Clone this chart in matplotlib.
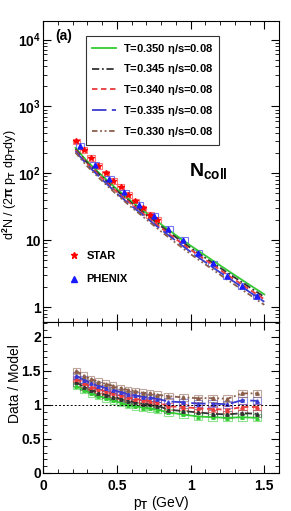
import numpy as np
import matplotlib.pyplot as plt
from matplotlib.patches import Rectangle
from matplotlib.lines import Line2D

plt.rcParams['font.family'] = ['Liberation Sans', 'DejaVu Sans']
plt.rcParams['font.weight'] = 'bold'
plt.rcParams['mathtext.fontset'] = 'custom'
plt.rcParams['mathtext.rm'] = 'Liberation Sans:bold'
plt.rcParams['mathtext.it'] = 'Liberation Sans:bold'
plt.rcParams['mathtext.bf'] = 'Liberation Sans:bold'

# data: spectra
star_pt = [0.225, 0.275, 0.325, 0.375, 0.425, 0.475, 0.525, 0.575, 0.625, 0.675, 0.725, 0.775]
star_y = [300, 225, 170, 128, 100, 78, 62, 48, 38, 30, 24, 20]
phenix_pt = [0.25, 0.35, 0.45, 0.55, 0.65, 0.75, 0.85, 0.95, 1.05, 1.15, 1.25, 1.35, 1.45]
phenix_y = [255, 135, 82, 52, 34, 23, 14.8, 10, 6.5, 4.5, 2.95, 2.05, 1.45]

# model curves
model_pt = [0.22, 0.3, 0.4, 0.5, 0.6, 0.7, 0.8, 0.9, 1.0, 1.1, 1.2, 1.3, 1.4, 1.5]
labels = ["T=0.350 $\\eta$/s=0.08", "T=0.345 $\\eta$/s=0.08", "T=0.340 $\\eta$/s=0.08",
          "T=0.335 $\\eta$/s=0.08", "T=0.330 $\\eta$/s=0.08"]
model_350 = [240, 150, 92, 58, 38, 25.5, 17.3, 11.9, 8.3, 5.9, 4.2, 3.0, 2.15, 1.55]
model_345 = [231, 143, 88, 55, 36, 24, 16.2, 11.1, 7.7, 5.45, 3.87, 2.76, 1.98, 1.42]
model_340 = [223, 139, 85, 53, 34.5, 23, 15.3, 10.4, 7.2, 5.1, 3.6, 2.56, 1.83, 1.31]
model_335 = [214, 133, 81, 50, 32.5, 21.7, 14.4, 9.8, 6.7, 4.7, 3.3, 2.35, 1.68, 1.2]
model_330 = [204, 127, 77, 48, 31, 20.5, 13.5, 9.1, 6.2, 4.35, 3.05, 2.15, 1.53, 1.08]

# data / model ratios
ratio_pt = [0.225, 0.275, 0.325, 0.375, 0.425, 0.475, 0.525, 0.575, 0.625, 0.675, 0.725, 0.775,
            0.85, 0.95, 1.05, 1.15, 1.25, 1.35, 1.45]
ratio_350 = [1.28, 1.22, 1.17, 1.13, 1.10, 1.07, 1.03, 1.00, 0.98, 0.96, 0.95, 0.93, 0.89, 0.86, 0.83, 0.82, 0.81, 0.82, 0.81]
ratio_345 = [1.33, 1.27, 1.22, 1.18, 1.15, 1.12, 1.09, 1.06, 1.04, 1.02, 1.01, 0.99, 0.93, 0.91, 0.89, 0.87, 0.86, 0.88, 0.87]
ratio_340 = [1.38, 1.32, 1.27, 1.23, 1.20, 1.17, 1.14, 1.11, 1.09, 1.07, 1.06, 1.04, 0.98, 0.97, 0.95, 0.94, 0.93, 0.97, 0.97]
ratio_335 = [1.43, 1.37, 1.32, 1.28, 1.25, 1.22, 1.19, 1.16, 1.14, 1.12, 1.11, 1.09, 1.05, 1.04, 1.02, 1.02, 1.01, 1.07, 1.06]
ratio_330 = [1.50, 1.43, 1.38, 1.34, 1.31, 1.28, 1.25, 1.22, 1.20, 1.18, 1.17, 1.15, 1.13, 1.11, 1.10, 1.10, 1.09, 1.17, 1.17]

ytick_top = [1, 10, 100, 1000, 10000]
ytick_top_labels = ['1', '10', '10$^2$', '10$^3$', '10$^4$']

models = [model_350, model_345, model_340, model_335, model_330]
ratios = [ratio_350, ratio_345, ratio_340, ratio_335, ratio_330]
colors = ['#33cc33', '#333333', '#e83a3a', '#3a3ad0', '#8b5e4b']
styles = ['-', (0, (4, 1.5, 1, 1.5)), (0, (3, 2)), (0, (8, 3)), (0, (3, 1.5, 1, 1.5, 1, 1.5))]

fig = plt.figure(figsize=(2.91, 5.11), dpi=100)
ax1 = fig.add_axes([0.148, 0.370, 0.811, 0.589])
ax2 = fig.add_axes([0.148, 0.0744, 0.811, 0.2956])

# top panel
for pt, y in zip(star_pt, star_y):
    ax1.add_patch(Rectangle((pt - 0.025, y * 0.9), 0.05, y * 0.2, fill=False, ec='#ff5555', lw=0.8, alpha=0.8))
for pt, y in zip(phenix_pt, phenix_y):
    ax1.add_patch(Rectangle((pt - 0.03, y * 0.9), 0.06, y * 0.2, fill=False, ec='#5555ee', lw=0.8, alpha=0.8))
for m, c, s in zip(models, colors, styles):
    ax1.plot(model_pt, m, color=c, ls=s, lw=1.3)
ax1.plot(star_pt, star_y, ls='none', marker='*', color='red', ms=4)
ax1.plot(phenix_pt, phenix_y, ls='none', marker='^', color='#1a1aff', ms=3.5)

ax1.set_yscale('log')
ax1.set_xlim(0, 1.6)
ax1.set_ylim(0.6, 1.9e4)
ax1.set_yticks(ytick_top)
ax1.set_yticklabels(ytick_top_labels)
ax1.set_xticklabels([])
ax1.set_ylabel('d$^2$N / (2$\\pi$ p$_T$ dp$_T$dy)', fontsize=9)
ax1.text(0.05, 0.95, '(a)', transform=ax1.transAxes, fontsize=10, va='center')
ax1.text(0.62, 0.50, 'N$_{coll}$', transform=ax1.transAxes, fontsize=14, va='center')

handles = [Line2D([], [], color=c, ls=s, lw=1.3) for c, s in zip(colors, styles)]
leg = ax1.legend(handles, labels, loc='upper left', bbox_to_anchor=(0.183, 0.95), fontsize=8,
                 frameon=True, fancybox=False, edgecolor='black', handlelength=2.2,
                 borderpad=0.5, labelspacing=0.62, handletextpad=0.6, borderaxespad=0)
leg.get_frame().set_linewidth(0.8)

h2 = [Line2D([], [], ls='none', marker='*', color='red', ms=5),
      Line2D([], [], ls='none', marker='^', color='#1a1aff', ms=4.5)]
leg2 = ax1.legend(h2, ['STAR', 'PHENIX'], loc='upper left', bbox_to_anchor=(0.09, 0.25),
                  fontsize=8, frameon=False, labelspacing=1.2, handletextpad=0.6,
                  handlelength=1.0, borderaxespad=0)
ax1.add_artist(leg)

# bottom panel
for r, c, s in zip(ratios, colors, styles):
    for pt, v in zip(ratio_pt, r):
        w = 0.045 if pt < 0.8 else 0.06
        ax2.add_patch(Rectangle((pt - w / 2, v - 0.05), w, 0.1, fill=False, ec=c, lw=0.8, alpha=0.55))
    ax2.plot(ratio_pt, r, color=c, ls=s, lw=1.3)
    ax2.plot(ratio_pt, r, ls='none', marker='^', color=c, ms=2.5)
ax2.axhline(1, color='black', ls=(0, (2, 2)), lw=0.7)
ax2.set_xlim(0, 1.6)
ax2.set_ylim(0, 2.22)
ax2.set_xticks([0, 0.5, 1, 1.5])
ax2.set_xticklabels(['0', '0.5', '1', '1.5'])
ax2.set_yticks([0, 0.5, 1, 1.5, 2])
ax2.set_yticklabels(['0', '0.5', '1', '1.5', '2'])
ax2.set_xlabel('p$_T$ (GeV)', fontsize=10, labelpad=1)
ax2.set_ylabel('Data / Model', fontsize=10)

for ax in (ax1, ax2):
    ax.minorticks_on()
    ax.tick_params(which='both', direction='in', top=True, right=True, labelsize=10, pad=1.5)
    ax.tick_params(which='major', length=6)
    ax.tick_params(which='minor', length=3)
    ax.xaxis.set_minor_locator(plt.MultipleLocator(0.1))
ax2.tick_params(axis='x', which='both', pad=4)
ax2.yaxis.set_minor_locator(plt.MultipleLocator(0.1))
ax1.yaxis.set_label_coords(-0.1, 0.455)
ax2.yaxis.set_label_coords(-0.09, 0.59)

fig.savefig('out.png', dpi=100)
